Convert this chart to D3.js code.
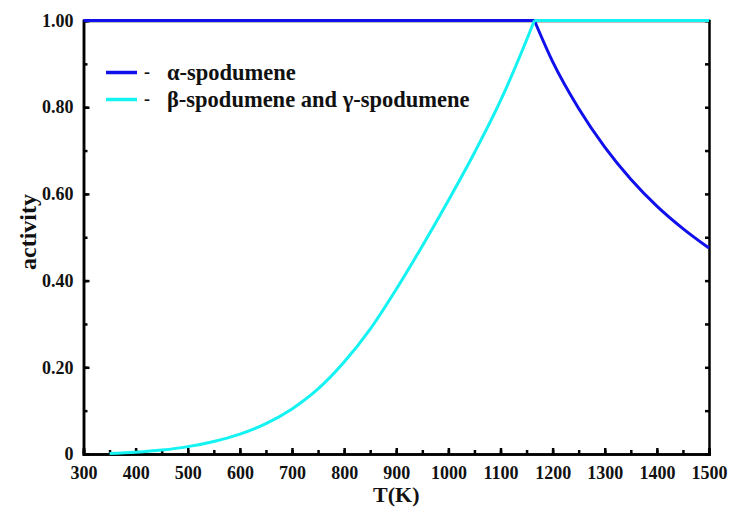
<!DOCTYPE html>
<html>
<head>
<meta charset="utf-8">
<script src="https://cdn.jsdelivr.net/npm/d3@7"></script>
<style>
  body { margin: 0; background: #fff; }
  text { font-family: "Liberation Serif", "Times New Roman", serif; font-weight: bold; fill: #111; }
</style>
</head>
<body>
<div id="chart"></div>
<script>
// Temperatures (K) and activities
var alphaT = [300, 1165, 1200, 1250, 1300, 1350, 1400, 1450, 1500];
var alphaA = [1.0, 1.0, 0.905, 0.797, 0.708, 0.634, 0.572, 0.52, 0.475];

var betaT = [350, 400, 450, 500, 550, 600, 650, 700, 750, 800, 850, 900, 950, 1000, 1050, 1100, 1150, 1165, 1500];
var betaA = [0.001, 0.004, 0.009, 0.017, 0.029, 0.046, 0.07, 0.104, 0.15, 0.212, 0.288, 0.38, 0.48, 0.585, 0.695, 0.815, 0.955, 1.0, 1.0];

// transition temperature, where both curves have a corner
var transitionT = 1165;

var xTicks = [300, 400, 500, 600, 700, 800, 900, 1000, 1100, 1200, 1300, 1400, 1500];
var yTicks = [0, 0.2, 0.4, 0.6, 0.8, 1.0];

var seriesNames = ['\u03b1-spodumene', '\u03b2-spodumene and \u03b3-spodumene'];
var seriesColours = ['#1010ec', '#14f2f2'];

function createChart() {
  var canvasWidth = 731;
  var canvasHeight = 508;

  var margin = {
    top: 20.5,
    right: 22,
    left: 83.5,
    bottom: 54
  };

  var w = canvasWidth - margin.left - margin.right;
  var h = canvasHeight - margin.top - margin.bottom;

  var svg = d3.select('#chart')
    .append('svg')
    .attr('width', canvasWidth)
    .attr('height', canvasHeight);

  var inner = svg
    .append('g')
    .attr('transform', 'translate(' + margin.left + ',' + margin.top + ')');

  return [svg, inner, w, h];
}

// Split a series at the transition so the corner stays sharp
function splitAtTransition(ts, vals) {
  var pts = ts.map((t, i) => [t, vals[i]]);
  var k = ts.indexOf(transitionT);
  return [pts.slice(0, k + 1), pts.slice(k)];
}

function renderChart(svg, g, w, h) {
  var x = d3.scaleLinear().domain([300, 1500]).range([0, w]);
  var y = d3.scaleLinear().domain([0, 1]).range([h, 0]);

  var minorX = d3.range(300, 1501, 50);
  var minorY = d3.range(0, 1.001, 0.1);

  g.append('g')
    .attr('class', 'axis')
    .attr('transform', 'translate(0,' + h + ')')
    .call(d3.axisBottom(x).tickValues(minorX).tickSize(-4).tickFormat(''));
  g.append('g')
    .attr('class', 'axis')
    .attr('transform', 'translate(0,' + h + ')')
    .call(d3.axisBottom(x).tickValues(xTicks).tickSize(-6).tickPadding(12).tickFormat(d3.format('d')));

  g.append('g')
    .attr('class', 'axis')
    .call(d3.axisLeft(y).tickValues(minorY).tickSize(-4).tickFormat(''));
  g.append('g')
    .attr('class', 'axis')
    .call(d3.axisLeft(y).tickValues(yTicks).tickSize(-6).tickPadding(10)
      .tickFormat(d => d === 0 ? '0' : d3.format('.2f')(d)));

  g.append('g')
    .attr('class', 'axis')
    .attr('transform', 'translate(' + w + ',0)')
    .call(d3.axisRight(y).tickValues(minorY).tickSize(-4).tickFormat(''));
  g.append('g')
    .attr('class', 'axis')
    .call(d3.axisTop(x).tickValues([]).tickSize(0).tickFormat(''));

  g.selectAll('.axis path, .axis line')
    .attr('stroke', '#000')
    .attr('stroke-width', 2.5);
  g.selectAll('.axis text')
    .style('font-size', '18px')
    .attr('fill', '#111');

  // Curves
  var line = d3.line()
    .x(d => x(d[0]))
    .y(d => y(d[1]))
    .curve(d3.curveMonotoneX);

  [[alphaT, alphaA], [betaT, betaA]].forEach((s, i) => {
    splitAtTransition(s[0], s[1]).forEach(part => {
      g.append('path')
        .datum(part)
        .attr('d', line)
        .attr('fill', 'none')
        .attr('stroke', seriesColours[i])
        .attr('stroke-width', 3);
    });
  });

  // Legend
  var legend = svg.append('g').attr('transform', 'translate(106,72.5)');
  seriesNames.forEach((name, i) => {
    var row = legend.append('g').attr('transform', 'translate(0,' + (i * 27) + ')');
    row.append('line')
      .attr('x1', 0).attr('x2', 31)
      .attr('stroke', seriesColours[i])
      .attr('stroke-width', 3.5);
    row.append('text')
      .attr('x', 38).attr('y', 5)
      .style('font-size', '18px')
      .text('-');
    row.append('text')
      .attr('x', 61).attr('y', 7)
      .style('font-size', '22.5px')
      .text(name);
  });

  // Axis titles
  svg.append('text')
    .attr('x', 83.5 + w / 2)
    .attr('y', 502)
    .attr('text-anchor', 'middle')
    .style('font-size', '22px')
    .text('T(K)');

  svg.append('text')
    .attr('transform', 'translate(36,232) rotate(-90)')
    .attr('text-anchor', 'middle')
    .style('font-size', '24px')
    .text('activity');
}

var c = createChart();
renderChart(c[0], c[1], c[2], c[3]);
</script>
</body>
</html>
